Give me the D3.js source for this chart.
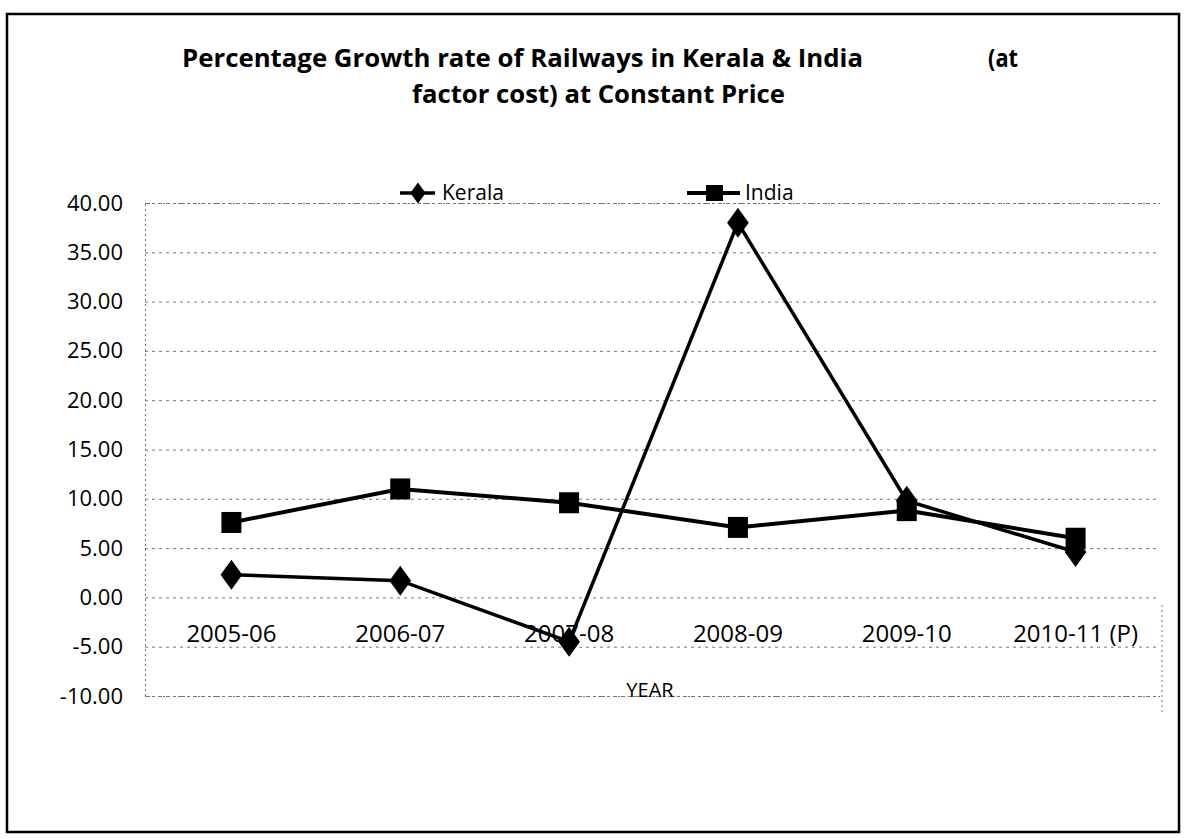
<!DOCTYPE html>
<html><head><meta charset="utf-8">
<script src="https://cdn.jsdelivr.net/npm/d3@7"></script>
<style>html,body{margin:0;padding:0;background:#fff;}</style>
</head><body>
<svg id="c" width="1185" height="839"></svg>
<script>
const categories = ["2005-06","2006-07","2007-08","2008-09","2009-10","2010-11 (P)"];
const kerala = [2.3, 1.7, -4.5, 38.0, 9.8, 4.6];
const india = [7.6, 11.0, 9.6, 7.1, 8.8, 6.0];
const yTicks = [-10,-5,0,5,10,15,20,25,30,35,40];
const titleLines = ["Percentage Growth rate of Railways in Kerala & India", "factor cost) at Constant Price"];

const svg = d3.select("#c");
const font = "'Open Sans', 'DejaVu Sans', sans-serif";
const left = 145, right = 1160;
const x = d3.scaleBand().domain(categories).range([147, 1160]);
const y = d3.scaleLinear().domain([-10, 40]).range([696, 203]);

// outer border
svg.append("rect").attr("x",7).attr("y",14).attr("width",1172).attr("height",818)
  .attr("fill","none").attr("stroke","#000").attr("stroke-width",2.5);

// title
svg.append("text").attr("x",182).attr("y",67).attr("font-family",font).attr("font-weight","bold")
  .attr("font-size",25).attr("textLength",681).attr("lengthAdjust","spacingAndGlyphs").text(titleLines[0]);
svg.append("text").attr("x",988).attr("y",67).attr("font-family",font).attr("font-weight","bold")
  .attr("font-size",25).attr("textLength",30).attr("lengthAdjust","spacingAndGlyphs").text("(at");
svg.append("text").attr("x",412).attr("y",103).attr("font-family",font).attr("font-weight","bold")
  .attr("font-size",25).attr("textLength",373).attr("lengthAdjust","spacingAndGlyphs").text(titleLines[1]);

// gridlines
const fmt = d => d3.format(".2f")(d).replace("\u2212","-");
const yAxis = d3.axisLeft(y).tickValues(yTicks).tickFormat(fmt).tickSize(-(right-left)).tickPadding(22);
const ga = svg.append("g").attr("transform",`translate(${left},0)`).call(yAxis);
ga.select(".domain").attr("stroke","#777").attr("stroke-dasharray","2,3");
ga.selectAll(".tick line").attr("stroke","#777").attr("stroke-dasharray","3,4").attr("stroke-width",1);
ga.selectAll(".tick text").attr("font-family",font).attr("font-size",22).attr("fill","#000");
// right dotted border of plot (lower part)
svg.append("line").attr("x1",1162).attr("x2",1162).attr("y1",605).attr("y2",712)
  .attr("stroke","#777").attr("stroke-dasharray","2,3");

// x labels
svg.append("g").selectAll("text").data(categories).join("text")
  .attr("x",d=>x(d)+x.bandwidth()/2).attr("y",642).attr("text-anchor","middle")
  .attr("font-family",font).attr("font-size",24).text(d=>d);
svg.append("text").attr("x",650).attr("y",697).attr("text-anchor","middle")
  .attr("font-family",font).attr("font-size",20).text("YEAR");

const cx = (d,i)=>x(categories[i])+x.bandwidth()/2;
const line = d3.line().x((d,i)=>cx(d,i)).y(d=>y(d));

// India
svg.append("path").datum(india).attr("d",line).attr("fill","none").attr("stroke","#000").attr("stroke-width",4);
svg.append("g").selectAll("rect").data(india).join("rect")
  .attr("x",(d,i)=>cx(d,i)-10).attr("y",d=>y(d)-10.5).attr("width",20).attr("height",21).attr("fill","#000");
// Kerala
svg.append("path").datum(kerala).attr("d",line).attr("fill","none").attr("stroke","#000").attr("stroke-width",3.5);
const diamond = d3.symbol().type(d3.symbolDiamond).size(260);
svg.append("g").selectAll("path").data(kerala).join("path")
  .attr("d",diamond).attr("transform",(d,i)=>`translate(${cx(d,i)},${y(d)}) scale(1.25,1)`).attr("fill","#000");

// legend
svg.append("line").attr("x1",400).attr("x2",435).attr("y1",193).attr("y2",193).attr("stroke","#000").attr("stroke-width",3.5);
svg.append("path").attr("d",d3.symbol().type(d3.symbolDiamond).size(130)()).attr("transform","translate(418,193) scale(1.25,1)");
svg.append("text").attr("x",442).attr("y",200).attr("font-family",font).attr("font-size",21).text("Kerala");
svg.append("line").attr("x1",687).attr("x2",740).attr("y1",193).attr("y2",193).attr("stroke","#000").attr("stroke-width",4);
svg.append("rect").attr("x",706).attr("y",185).attr("width",17).attr("height",16);
svg.append("text").attr("x",745).attr("y",200).attr("font-family",font).attr("font-size",21).text("India");
</script>
</body></html>
